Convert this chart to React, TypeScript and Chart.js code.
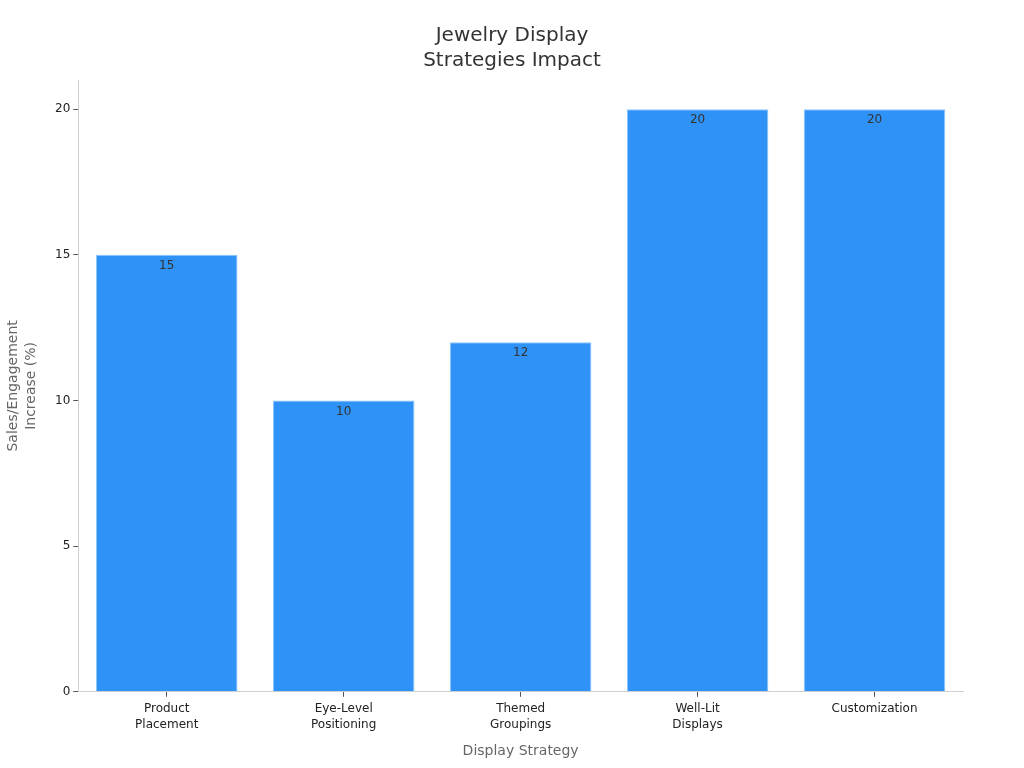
import React, { useEffect, useRef } from "react";
import { Chart, registerables } from "chart.js";

Chart.register(...registerables);

const categories: string[][] = [
  ["Product", "Placement"],
  ["Eye-Level", "Positioning"],
  ["Themed", "Groupings"],
  ["Well-Lit", "Displays"],
  ["Customization"],
];
const values: number[] = [15, 10, 12, 20, 20];
const yTicks: number[] = [0, 5, 10, 15, 20];
const titleLines: string[] = ["Jewelry Display", "Strategies Impact"];
const yTitle: string[] = ["Sales/Engagement", "Increase (%)"];
const xTitle = "Display Strategy";

const FONT = "'DejaVu Sans', sans-serif";

const labelPlugin = {
  id: "barLabels",
  afterDatasetsDraw(chart: any) {
    const ctx = chart.ctx;
    const meta = chart.getDatasetMeta(0);
    ctx.save();
    ctx.font = `12px ${FONT}`;
    ctx.fillStyle = "#333";
    ctx.textAlign = "center";
    ctx.textBaseline = "middle";
    meta.data.forEach((el: any, i: number) => {
      ctx.fillText(String(values[i]), el.x, el.y + 11);
    });
    ctx.restore();
  },
};

const titlePlugin = {
  id: "centerTitle",
  afterDraw(chart: any) {
    const ctx = chart.ctx;
    ctx.save();
    ctx.font = `20px ${FONT}`;
    ctx.fillStyle = "#333";
    ctx.textAlign = "center";
    ctx.textBaseline = "alphabetic";
    titleLines.forEach((line, i) => {
      ctx.fillText(line, chart.width / 2, 41 + i * 25);
    });
    ctx.restore();
  },
};

export default function App() {
  const ref = useRef<HTMLCanvasElement>(null);
  useEffect(() => {
    if (!ref.current) return;
    const chart = new Chart(ref.current, {
      type: "bar",
      data: {
        labels: categories,
        datasets: [
          {
            data: values,
            backgroundColor: "#2f92f7",
            borderColor: "#8cc4fb",
            borderWidth: 1,
            barPercentage: 0.8,
            categoryPercentage: 1,
          },
        ],
      },
      options: {
        animation: false,
        responsive: true,
        maintainAspectRatio: false,
        layout: { padding: { top: 80, right: 61, bottom: 8, left: 5 } },
        plugins: {
          legend: { display: false },
          tooltip: { enabled: false },
          title: { display: false },
        },
        scales: {
          x: {
            grid: {
              display: true,
              drawOnChartArea: false,
              drawTicks: true,
              offset: false,
              tickLength: 5,
              color: "#555",
            },
            border: { display: true, color: "#d0d0d0" },
            ticks: {
              color: "#222",
              font: { family: FONT, size: 12, lineHeight: 1.35 },
              maxRotation: 0,
              padding: 4,
            },
            title: {
              display: true,
              text: xTitle,
              color: "#666",
              font: { family: FONT, size: 14 },
              padding: { top: 6, bottom: 0 },
            },
          },
          y: {
            min: 0,
            max: 21,
            afterBuildTicks: (axis: any) => {
              axis.ticks = yTicks.map((v) => ({ value: v }));
            },
            grid: {
              display: true,
              drawOnChartArea: false,
              drawTicks: true,
              tickLength: 5,
              color: "#555",
            },
            border: { display: true, color: "#d0d0d0" },
            ticks: {
              color: "#222",
              font: { family: FONT, size: 12 },
              padding: 3,
            },
            title: {
              display: true,
              text: yTitle,
              color: "#666",
              font: { family: FONT, size: 14, lineHeight: 1.25 },
              padding: { top: 0, bottom: 12 },
            },
          },
        },
      },
      plugins: [labelPlugin, titlePlugin],
    });
    return () => chart.destroy();
  }, []);
  return (
    <div style={{ position: "fixed", left: 0, top: 0, width: 1024, height: 768, background: "#fff" }}>
      <canvas ref={ref} />
    </div>
  );
}
